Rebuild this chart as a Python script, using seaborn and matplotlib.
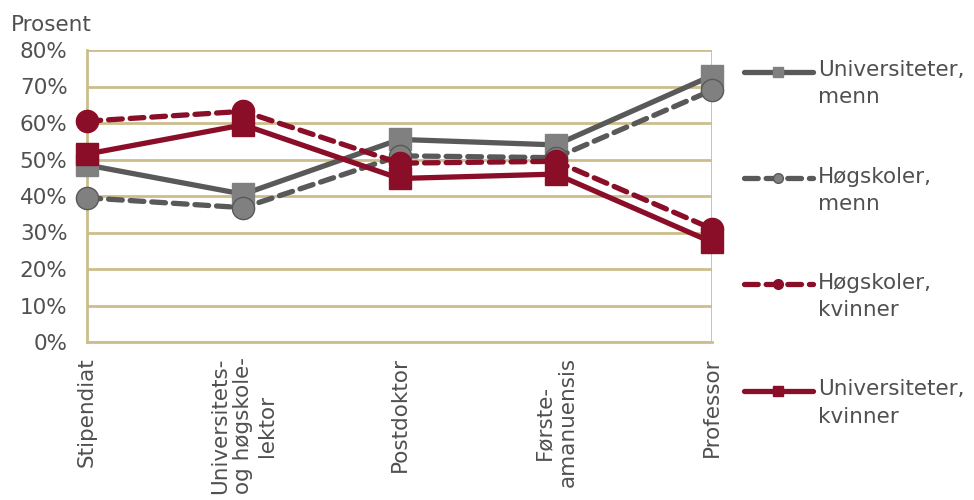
import matplotlib
matplotlib.use("agg")
import matplotlib.pyplot as plt
from matplotlib.lines import Line2D
from matplotlib.legend_handler import HandlerLine2D
import seaborn as sns
import pandas as pd

categories = ["Stipendiat", "Universitets-\nog høgskole-\nlektor", "Postdoktor",
              "Første-\namanuensis", "Professor"]
univ_menn = [48.5, 40.5, 55.5, 54.0, 73.0]
hogsk_menn = [39.5, 36.8, 51.0, 50.5, 69.0]
hogsk_kvinner = [60.5, 63.2, 49.0, 49.5, 31.0]
univ_kvinner = [51.5, 59.5, 44.8, 46.0, 27.3]

series_names = ["Universiteter,\nmenn", "Høgskoler,\nmenn", "Høgskoler,\nkvinner", "Universiteter,\nkvinner"]
series_vals = [univ_menn, hogsk_menn, hogsk_kvinner, univ_kvinner]

gray_line = "#595959"
gray_fill = "#808080"
red = "#8A0E27"
tan = "#CBBD8C"
text_col = "#505050"
dash = (0, (2.6, 1.5))

styles = [
    dict(color=gray_line, ls="-", marker="s", mfc=gray_fill, mec=gray_fill),
    dict(color=gray_line, ls=dash, marker="o", mfc=gray_fill, mec=gray_line),
    dict(color=red, ls=dash, marker="o", mfc=red, mec=red),
    dict(color=red, ls="-", marker="s", mfc=red, mec=red),
]


class UpperLineHandler(HandlerLine2D):
    # put the legend line at the first text line, not in the middle
    def create_artists(self, legend, orig_handle, xdescent, ydescent, width,
                       height, fontsize, trans):
        return super().create_artists(legend, orig_handle, xdescent, ydescent - 18,
                                      width, height, fontsize, trans)


sns.set_style("white")
plt.rcParams["font.family"] = ["DejaVu Sans"]
plt.rcParams["lines.dash_capstyle"] = "round"

fig = plt.figure(figsize=(9.74, 5.0), dpi=100)
ax = fig.add_axes([0.0893, 0.316, 0.642, 0.584])

for name, vals, st in zip(series_names, series_vals, styles):
    df = pd.DataFrame({"x": range(len(categories)), "y": vals})
    sns.lineplot(data=df, x="x", y="y", ax=ax, color=st["color"], linewidth=3.8,
                 linestyle=st["ls"], marker=st["marker"], markersize=16,
                 markerfacecolor=st["mfc"], markeredgecolor=st["mec"],
                 markeredgewidth=1.0, legend=False, clip_on=False, zorder=3)

ax.set_xlim(0, len(categories) - 1)
ax.set_ylim(0, 80)
ax.set_yticks(range(0, 81, 10))
ax.set_yticklabels([f"{v}%" for v in range(0, 81, 10)], fontsize=15.5, color=text_col)
ax.set_xticks(range(len(categories)))
ax.set_xticklabels(categories, rotation=90, fontsize=15.5, color=text_col,
                   multialignment="center")
ax.set_xlabel("")
ax.set_ylabel("")
ax.grid(axis="y", color=tan, linewidth=2)
ax.set_axisbelow(True)
for s in ["top", "right"]:
    ax.spines[s].set_visible(False)
for s in ["left", "bottom"]:
    ax.spines[s].set_color(tan)
    ax.spines[s].set_linewidth(2)
ax.axvline(len(categories) - 1, color=tan, lw=2, zorder=1)
ax.tick_params(axis="y", direction="out", length=6, width=2, color=tan, pad=8)
ax.tick_params(axis="x", direction="out", length=7, width=2, color=tan, pad=4)

fig.text(0.011, 0.93, "Prosent", fontsize=15.5, color=text_col, va="bottom")

handles = [Line2D([], [], color=st["color"], lw=3.8, ls=st["ls"], marker=st["marker"],
                  markersize=7, mfc=st["mfc"], mec=st["mec"]) for st in styles]
leg = fig.legend(handles, series_names, loc="upper left", bbox_to_anchor=(0.755, 0.897),
                 frameon=False, fontsize=15.5, labelcolor=text_col, handlelength=3.2,
                 handletextpad=0.25, labelspacing=2.75, borderaxespad=0,
                 handler_map={Line2D: UpperLineHandler()})
for t in leg.get_texts():
    t.set_linespacing(1.45)

fig.savefig("out.png", dpi=100)
